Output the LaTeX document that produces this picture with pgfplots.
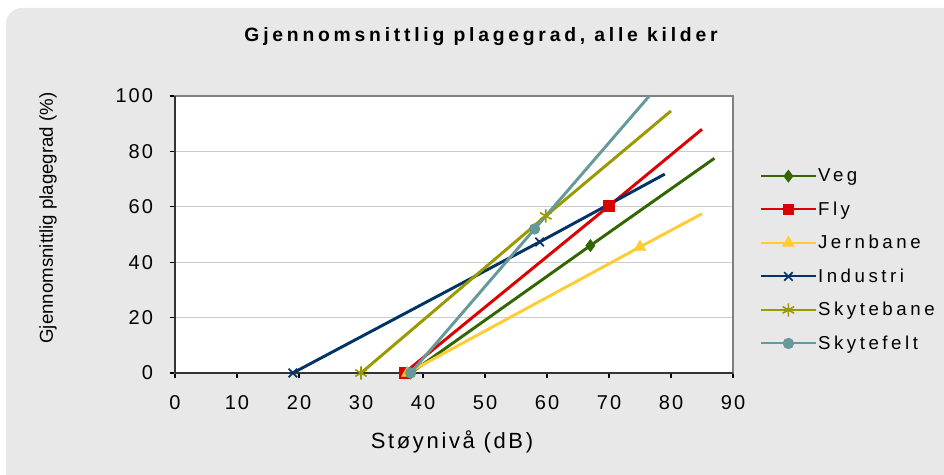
\documentclass[border=0pt]{standalone}
\usepackage{pgfplots}
\pgfplotsset{compat=1.18}
\usepackage{fontspec}
\setmainfont{Liberation Sans}
\newfontfamily\titlefont[LetterSpace=19.5]{Liberation Sans}
\newfontfamily\legfont[LetterSpace=19]{Liberation Sans}
\newfontfamily\xlabfont[LetterSpace=12]{Liberation Sans}
\newfontfamily\tickfont[LetterSpace=10]{Liberation Sans}
\definecolor{bg}{RGB}{232,232,232}
\definecolor{cveg}{RGB}{51,102,0}
\definecolor{cfly}{RGB}{221,0,0}
\definecolor{cjern}{RGB}{255,204,51}
\definecolor{cind}{RGB}{0,51,102}
\definecolor{cskb}{RGB}{153,153,0}
\definecolor{cskf}{RGB}{102,153,153}
\begin{document}
\begin{tikzpicture}[x=0.75pt,y=0.75pt]
\useasboundingbox (0,0) rectangle (944,474);
\fill[bg, rounded corners=12pt] (6,-30) rectangle (980,466);
\begin{axis}[
  at={(131.25pt,75.75pt)}, anchor=south west,
  scale only axis, width=418.5pt, height=207.75pt,
  xmin=0, xmax=90, ymin=0, ymax=100,
  xtick={0,10,...,90}, ytick={0,20,...,100},
  axis background/.style={fill=white},
  ymajorgrids, grid style={draw=black!20, line width=0.8pt},
  axis line style={draw=black!50, line width=1pt},
  tick align=outside, major tick length=4pt,
  tick style={black, line width=0.8pt},
  xtick pos=bottom, ytick pos=left,
  /pgf/number format/assume math mode=true,
  tick label style={font=\fontsize{15}{17}\selectfont\tickfont},
  xticklabel style={yshift=-9pt},
  yticklabel style={xshift=-9pt},
  xlabel={Støynivå (dB)},
  ylabel={Gjennomsnittlig plagegrad (\%)},
  xlabel style={font=\fontsize{16.5}{18}\selectfont\xlabfont, at={(axis description cs:0.4964,-0.249)}, anchor=center},
  ylabel style={font=\fontsize{14}{16}\selectfont, at={(axis description cs:-0.2276,0.5596)}, anchor=center},
  clip=false,
  legend style={draw=none, fill=none, at={(axis description cs:1.048,0.408)}, anchor=west,
    font=\fontsize{14}{16}\selectfont\legfont, row sep=11.5pt, inner sep=0pt,
    nodes={inner sep=1pt}},
  legend cell align=left,
  legend image code/.code={\draw[#1, line width=1.5pt, mark indices={2}] plot coordinates {(0pt,0pt) (20.5pt,0pt) (41pt,0pt)};},
]
\addplot[cveg, line width=2.2pt, mark=diamond*, mark size=4.5pt, mark indices={1,2}, mark options={solid, line width=0.5pt}] coordinates {(38,0) (67,46) (87,77.5)};
\addlegendentry{Veg}
\addplot[cfly, line width=2.2pt, mark=square*, mark size=4pt, mark indices={1,2}, mark options={solid, line width=0.5pt}] coordinates {(37,0) (70,60.3) (85,88)};
\addlegendentry{Fly}
\addplot[cjern, line width=2.2pt, mark=triangle*, mark size=5pt, mark indices={1,2}, mark options={solid, line width=0.5pt}] coordinates {(37.5,0) (75,45.5) (85,57.5)};
\addlegendentry{Jernbane}
\addplot[cind, line width=2.2pt, mark=x, mark size=4.5pt, mark indices={1,2}, mark options={solid, line width=1.3pt}] coordinates {(19,0) (58.8,47.3) (79,71.8)};
\addlegendentry{Industri}
\addplot[cskb, line width=2.2pt, mark=asterisk, mark size=5pt, mark indices={1,2}, mark options={solid, line width=1.2pt}] coordinates {(30,0) (59.8,56.7) (80,94.6)};
\addlegendentry{Skytebane}
\addplot[cskf, line width=2.2pt, mark=*, mark size=4pt, mark indices={1,2}, mark options={solid, line width=0.5pt}] coordinates {(38,0) (58,52) (76.5,100)};
\addlegendentry{Skytefelt}
\draw[black!80, line width=1pt] (rel axis cs:0,0) -- (rel axis cs:0,1);
\draw[black!80, line width=1pt] (rel axis cs:0,0) -- (rel axis cs:1,0);
\end{axis}
\node[font=\fontsize{14.5}{16}\selectfont\titlefont\bfseries, anchor=base] at (481,432) {Gjennomsnittlig plagegrad, alle kilder};
\end{tikzpicture}
\end{document}
